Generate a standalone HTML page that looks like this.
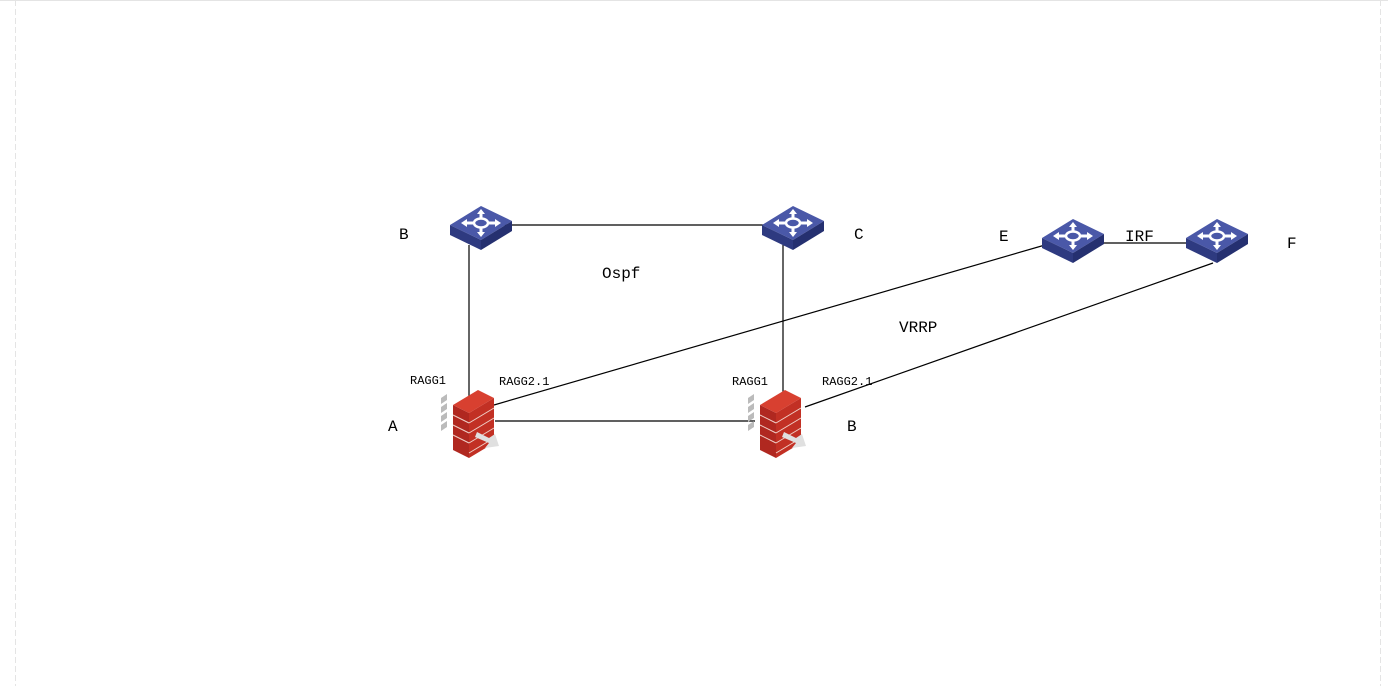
<!DOCTYPE html>
<html><head><meta charset="utf-8"><style>
html,body{margin:0;padding:0;background:#fff;width:1388px;height:686px;overflow:hidden}
text{font-family:"Liberation Mono","Noto Serif CJK SC",monospace;fill:#000}
</style></head><body>
<svg width="1388" height="686" xmlns="http://www.w3.org/2000/svg">
<defs>
<g id="sw">
 <polygon points="0,19 31,0 62,15 31,34" fill="#4a58a8"/>
 <polygon points="0,19 31,34 31,44 0,29" fill="#2e3a80"/>
 <polygon points="31,34 62,15 62,25 31,44" fill="#253070"/>
 <g stroke="#fff" stroke-width="3" fill="none">
  <line x1="15" y1="17" x2="47" y2="17"/><line x1="31" y1="6" x2="31" y2="28"/>
 </g>
 <ellipse cx="31" cy="17" rx="7" ry="4.5" fill="#4a58a8" stroke="#fff" stroke-width="2.5"/>
 <g fill="#fff"><polygon points="11,17 17,13 17,21"/><polygon points="51,17 45,13 45,21"/><polygon points="31,3 27,8 35,8"/><polygon points="31,31 27,26 35,26"/></g>
</g>
<g id="fw">
 <g fill="#bbb"><polygon points="-12,8 -6,4 -6,10 -12,14"/><polygon points="-12,17 -6,13 -6,19 -12,23"/><polygon points="-12,26 -6,22 -6,28 -12,32"/><polygon points="-12,35 -6,31 -6,37 -12,41"/></g>
 <polygon points="0,15 25,0 41,8 16,23" fill="#d84030"/>
 <polygon points="0,15 16,23 16,68 0,60" fill="#b02820"/>
 <polygon points="16,23 41,8 41,53 16,68" fill="#c23024"/>
 <g stroke="#f0d0c8" stroke-width="1" fill="none">
  <path d="M16,33 L41,18 M16,43 L41,28 M16,53 L41,38 M16,63 L41,48"/>
  <path d="M0,25 L16,33 M0,35 L16,43 M0,45 L16,53"/>
 </g>
 <polygon points="24,42 36,48 42,44 46,56 32,58 36,53 22,47" fill="#e0e0e0"/>
</g>
</defs>
<line x1="0" y1="0.5" x2="1388" y2="0.5" stroke="#e4e4e4"/>
<line x1="15.5" y1="0" x2="15.5" y2="686" stroke="#e4e4e4" stroke-dasharray="6,3"/>
<line x1="1380.5" y1="0" x2="1380.5" y2="686" stroke="#e4e4e4" stroke-dasharray="6,3"/>
<g stroke="#000" stroke-width="1.2">
 <line x1="500" y1="225" x2="770" y2="225"/>
 <line x1="469" y1="245" x2="469" y2="398"/>
 <line x1="783" y1="245" x2="783" y2="398"/>
 <line x1="495" y1="421" x2="755" y2="421"/>
 <line x1="494" y1="405" x2="1045" y2="245"/>
 <line x1="805" y1="407" x2="1213" y2="263"/>
 <line x1="1100" y1="243" x2="1190" y2="243"/>
</g>
<use href="#sw" x="450" y="206"/>
<use href="#sw" x="762" y="206"/>
<use href="#sw" x="1042" y="219"/>
<use href="#sw" x="1186" y="219"/>
<use href="#fw" x="453" y="390"/>
<use href="#fw" x="760" y="390"/>
<g font-size="16">
<text x="399" y="239">B</text>
<text x="854" y="239">C</text>
<text x="999" y="241">E</text>
<text x="1125" y="241">IRF</text>
<text x="1287" y="248">F</text>
<text x="602" y="278">Ospf</text>
<text x="899" y="332">VRRP</text>
<text x="388" y="431">A</text>
<text x="847" y="431">B</text>
</g>
<g font-size="12">
<text x="410" y="384">RAGG1</text>
<text x="499" y="385">RAGG2.1</text>
<text x="732" y="385">RAGG1</text>
<text x="822" y="385">RAGG2.1</text>
</g>
</svg>
</body></html>
